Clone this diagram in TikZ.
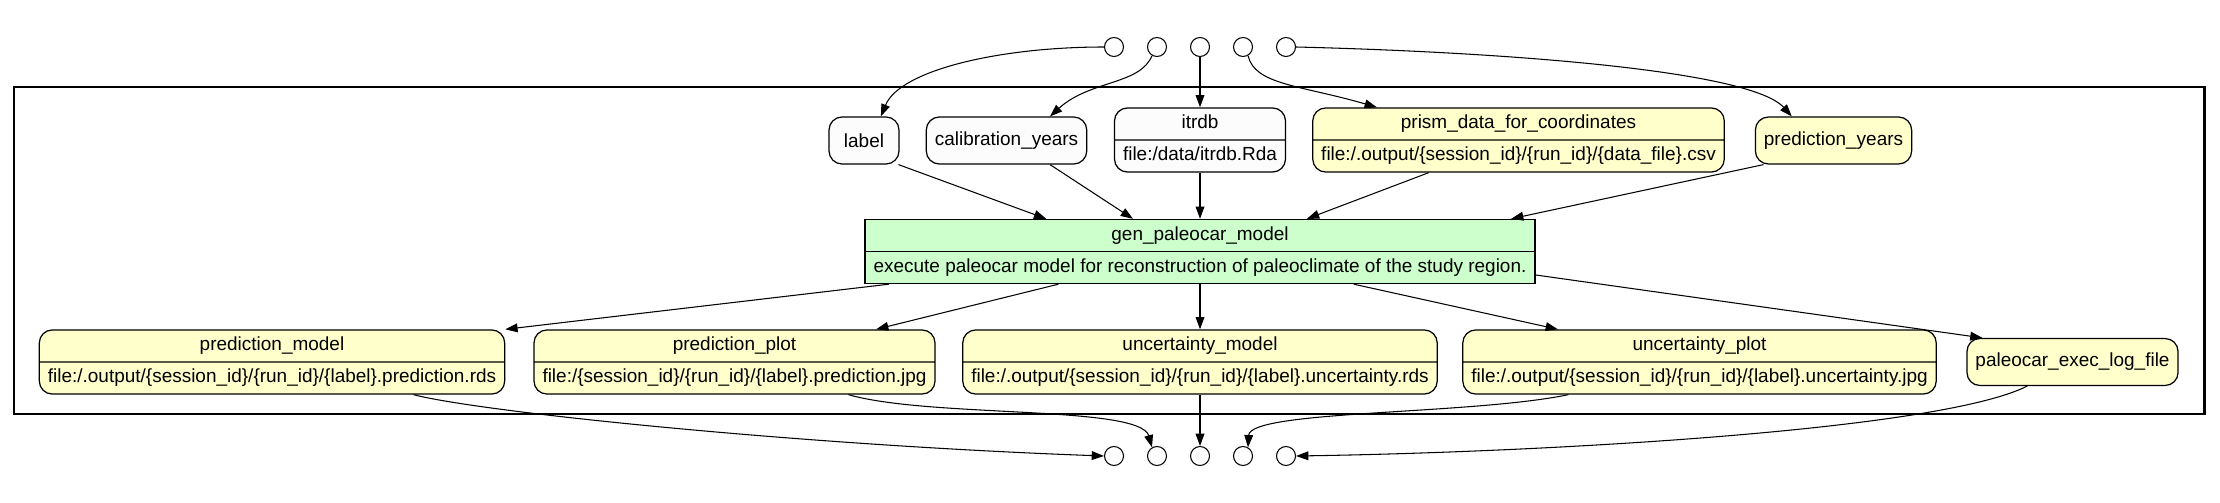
\documentclass[tikz,border=0pt]{standalone}
\usepackage{fontspec}
\setmainfont{Liberation Sans}
\usetikzlibrary{shapes.multipart,arrows.meta}
\definecolor{paramfill}{HTML}{FCFCFC}
\definecolor{filefill}{HTML}{FFFFCC}
\definecolor{progfill}{HTML}{CCFFCC}
\tikzset{
  wfbox/.style={draw,line width=1.7pt},
  port/.style={circle,draw,fill=white,line width=0.6pt,minimum size=0.38cm,inner sep=0pt},
  param/.style={draw,rounded corners=0.26cm,fill=paramfill,line width=0.7pt,
    minimum width=1.4cm,minimum height=0.94cm,inner xsep=0.17cm},
  datasingle/.style={param,fill=filefill},
  paramsplit/.style={rectangle split,rectangle split parts=2,draw,rounded corners=0.26cm,
    fill=paramfill,line width=0.7pt,inner xsep=0.17cm,inner ysep=0.08cm},
  datafile/.style={paramsplit,fill=filefill},
  program/.style={paramsplit,rounded corners=0pt,fill=progfill},
  flow/.style={-{Triangle[length=7pt,width=5pt]},line width=0.6pt}
}
\begin{document}
\begin{tikzpicture}[x=0.02cm,y=-0.02cm,font=\fontsize{10.8}{13}\selectfont]
  \useasboundingbox (0,0) rectangle (2220,503);
  % workflow frame
  \draw[wfbox] (14,87) rectangle (2204,414);

  % in and out ports
  \foreach \i/\x in {1/1114,2/1157,3/1200,4/1243,5/1286}{
    \node[port] (in\i) at (\x,47) {};
    \node[port] (out\i) at (\x,456) {};
  }

  % inputs
  \node[param] (label) at (864,140.5) {label};
  \node[param] (calyears) at (1006.5,140.5) {calibration\_years};
  \node[paramsplit] (itrdb) at (1200,140) {\strut itrdb\nodepart{two}\strut file:/data/itrdb.Rda};
  \node[datafile] (prism) at (1518.5,140) {\strut prism\_data\_for\_coordinates\nodepart{two}\strut file:/.output/\{session\_id\}/\{run\_id\}/\{data\_file\}.csv};
  \node[datasingle] (predyears) at (1833.5,140.5) {prediction\_years};

  % program
  \node[program] (gen) at (1200,251.5) {\strut gen\_paleocar\_model\nodepart{two}\strut execute paleocar model for reconstruction of paleoclimate of the study region.};

  % outputs
  \node[datafile] (predmodel) at (272,362) {\strut prediction\_model\nodepart{two}\strut file:/.output/\{session\_id\}/\{run\_id\}/\{label\}.prediction.rds};
  \node[datafile] (predplot) at (734.5,362) {\strut prediction\_plot\nodepart{two}\strut file:/\{session\_id\}/\{run\_id\}/\{label\}.prediction.jpg};
  \node[datafile] (uncmodel) at (1200,362) {\strut uncertainty\_model\nodepart{two}\strut file:/.output/\{session\_id\}/\{run\_id\}/\{label\}.uncertainty.rds};
  \node[datafile] (uncplot) at (1699.5,362) {\strut uncertainty\_plot\nodepart{two}\strut file:/.output/\{session\_id\}/\{run\_id\}/\{label\}.uncertainty.jpg};
  \node[datasingle] (logfile) at (2072.5,362) {paleocar\_exec\_log\_file};

  % ports to inputs
  \draw[flow] (in1.west) .. controls (1000,47) and (900,70) .. (label.55);
  \draw[flow] (in2.-120) .. controls (1140,85) and (1090,80) .. (calyears.29);
  \draw[flow] (in3) -- (itrdb);
  \draw[flow] (in4.-60) .. controls (1255,85) and (1300,85) .. (prism.167);
  \draw[flow] (in5.east) .. controls (1500,52) and (1750,70) .. (predyears.150);

  % inputs to program
  \draw[flow] (label.-35) -- (gen.168);
  \draw[flow] (calyears.-29) -- (gen.154);
  \draw[flow] (itrdb) -- (gen);
  \draw[flow] (prism.200) -- (gen.17.5);
  \draw[flow] (predyears.199) -- (gen.6.4);

  % program to outputs
  \draw[flow] (gen.186.7) -- (predmodel.north east);
  \draw[flow] (gen.193.4) -- (predplot.13);
  \draw[flow] (gen) -- (uncmodel);
  \draw[flow] (gen.-12.6) -- (uncplot.167.8);
  \draw[flow] (gen.-4.5) -- (logfile.165.9);

  % outputs to ports
  \draw[flow] (predmodel.-13.6) .. controls (480,412) and (800,445) .. (out1.west);
  \draw[flow] (predplot.-16) .. controls (930,418) and (1140,405) .. (out2.120);
  \draw[flow] (uncmodel) -- (out3);
  \draw[flow] (uncplot.194) .. controls (1470,415) and (1250,410) .. (out4.60);
  \draw[flow] (logfile.208) .. controls (1940,430) and (1550,452) .. (out5.east);
\end{tikzpicture}
\end{document}
